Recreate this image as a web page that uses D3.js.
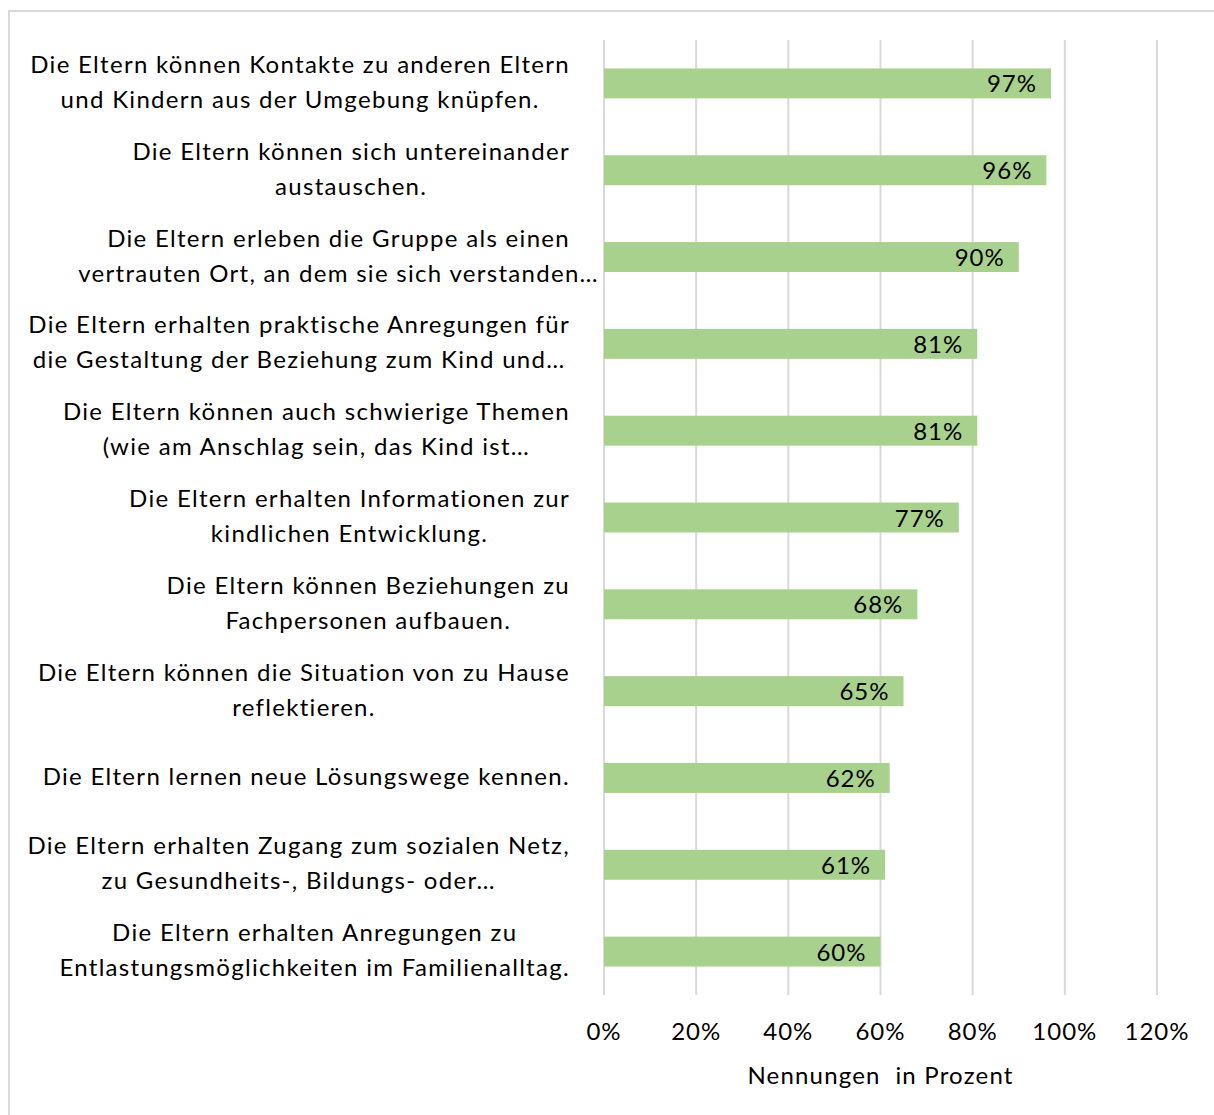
<!DOCTYPE html>
<html>
<head>
<meta charset="utf-8">
<script src="https://cdn.jsdelivr.net/npm/d3@7"></script>
<style>
  body { margin: 0; background: #fff; }
  text { font-family: Lato, "Open Sans", sans-serif; fill: #000; }
</style>
</head>
<body>
<div id="viz"></div>
<script>
// Chart data
const labels = [
    ["Die Eltern können Kontakte zu anderen Eltern", "und Kindern aus der Umgebung knüpfen."],
    ["Die Eltern können sich untereinander", "austauschen."],
    ["Die Eltern erleben die Gruppe als einen", "vertrauten Ort, an dem sie sich verstanden…"],
    ["Die Eltern erhalten praktische Anregungen für", "die Gestaltung der Beziehung zum Kind und…"],
    ["Die Eltern können auch schwierige Themen", "(wie am Anschlag sein, das Kind ist…"],
    ["Die Eltern erhalten Informationen zur", "kindlichen Entwicklung."],
    ["Die Eltern können Beziehungen zu", "Fachpersonen aufbauen."],
    ["Die Eltern können die Situation von zu Hause", "reflektieren."],
    ["Die Eltern lernen neue Lösungswege kennen."],
    ["Die Eltern erhalten Zugang zum sozialen Netz,", "zu Gesundheits-, Bildungs- oder…"],
    ["Die Eltern erhalten Anregungen zu", "Entlastungsmöglichkeiten im Familienalltag."]
];
const values = [97, 96, 90, 81, 81, 77, 68, 65, 62, 61, 60];
const ticks = [0, 20, 40, 60, 80, 100, 120];
const axisTitle = "Nennungen  in Prozent";

const width = 1214;
const height = 1115;
const margin = { top: 40, right: 57, bottom: 120, left: 604 };
const fontSize = 24;

const svg = d3.select("#viz")
    .append("svg")
    .attr("width", width)
    .attr("height", height);

// Outer chart frame (extends beyond the picture on right and bottom)
svg.append("rect")
    .attr("x", 9)
    .attr("y", 11)
    .attr("width", width + 20)
    .attr("height", height + 20)
    .attr("fill", "none")
    .attr("stroke", "#d9d9d9")
    .attr("stroke-width", 2);

const idx = d3.range(values.length);

const x = d3.scaleLinear()
    .domain([0, 120])
    .range([margin.left, width - margin.right]);

const y = d3.scaleBand()
    .domain(idx)
    .range([margin.top, height - margin.bottom])
    .paddingInner(0.655)
    .paddingOuter(0.3275);

// Gridlines
svg.append("g")
    .selectAll("line")
    .data(ticks)
    .enter().append("line")
    .attr("x1", d => x(d))
    .attr("x2", d => x(d))
    .attr("y1", margin.top)
    .attr("y2", height - margin.bottom)
    .attr("stroke", "#d9d9d9")
    .attr("stroke-width", 2);

// Bars
svg.append("g")
    .selectAll("rect")
    .data(idx)
    .enter().append("rect")
    .attr("x", x(0))
    .attr("y", i => y(i))
    .attr("width", i => x(values[i]) - x(0))
    .attr("height", y.bandwidth())
    .attr("fill", "#a9d18e");

// Value labels
svg.append("g")
    .selectAll("text")
    .data(idx)
    .enter().append("text")
    .attr("x", i => x(values[i]) - 14)
    .attr("y", i => y(i) + y.bandwidth() / 2 + 3)
    .attr("text-anchor", "end")
    .attr("dominant-baseline", "middle")
    .attr("font-size", fontSize)
    .attr("letter-spacing", 1)
    .text(i => values[i] + "%");

// Category labels: lines centred within a block right-aligned at 570
const labelRight = 570;
const lineH = 35;
const labelG = svg.append("g");
idx.forEach(i => {
    const lines = labels[i];
    const cy = y(i) + y.bandwidth() / 2;
    const t = labelG.append("text")
        .attr("font-size", fontSize)
        .attr("letter-spacing", 1.3)
        .attr("text-anchor", "middle");
    const spans = lines.map((l, k) => t.append("tspan")
        .attr("y", cy + (k - (lines.length - 1) / 2) * lineH + 1)
        .attr("dominant-baseline", "middle")
        .text(l));
    const widths = spans.map(s => s.node().getComputedTextLength());
    const w = lines.length > 1 && lines[1].endsWith("…") ? widths[0] : d3.max(widths);
    spans.forEach(s => s.attr("x", labelRight - w / 2));
});

// Tick labels
svg.append("g")
    .selectAll("text")
    .data(ticks)
    .enter().append("text")
    .attr("x", d => x(d))
    .attr("y", 1034)
    .attr("text-anchor", "middle")
    .attr("dominant-baseline", "middle")
    .attr("font-size", fontSize)
    .attr("letter-spacing", 1)
    .text(d => d + "%");

// Axis title
svg.append("text")
    .attr("x", (x(0) + x(120)) / 2)
    .attr("y", 1078)
    .attr("text-anchor", "middle")
    .attr("dominant-baseline", "middle")
    .attr("font-size", fontSize)
    .attr("letter-spacing", 1.2)
    .style("white-space", "pre")
    .text(axisTitle);
</script>
</body>
</html>
